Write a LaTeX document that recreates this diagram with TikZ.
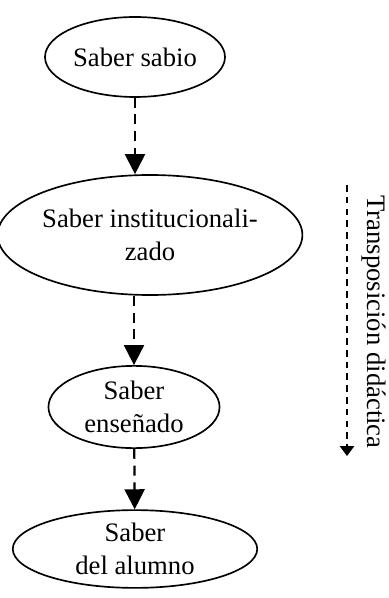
\documentclass[tikz,border=0pt]{standalone}
\usepackage{fontspec}
\setmainfont{Liberation Serif}
\usetikzlibrary{shapes.geometric,arrows.meta}

\begin{document}
\begin{tikzpicture}[x=0.45pt, y=-0.45pt, inner sep=0pt,
    font=\fontsize{12}{15}\selectfont,
    saber/.style={ellipse, draw, line width=0.75pt, align=center},
    flow/.style={line width=1pt, dash pattern=on 4.5pt off 3pt,
                 -{Triangle[width=9pt,length=9pt]}},
    transp/.style={line width=0.6pt, dash pattern=on 3pt off 2.3pt,
                   -{Triangle[width=6.5pt,length=4.5pt]}}]
  \useasboundingbox (0,0) rectangle (388,598);
  \path node (S1) at (135, 57) [saber, minimum width=81pt, minimum height=36pt] {Saber sabio}
        node (S2) at (150,235) [saber, minimum width=126pt, minimum height=54pt] {Saber institucionali-\\zado}
        node (S3) at (134,407) [saber, minimum width=77pt, minimum height=37pt] {Saber\\enseñado}
        node (S4) at (135,549) [saber, minimum width=110pt, minimum height=35pt] {Saber\\del alumno}
        %
        coordinate (T1) at (347,185)
        coordinate (T2) at (347,456)
        node (TD) at (374,322) [rotate=-90] {Transposición didáctica};
  \draw[flow] (S1) -- (S1 |- S2.north);
  \draw[flow] (S3 |- S2.south) -- (S3);
  \draw[flow] (S3) -- (S4);
  \draw[transp] (T1) -- (T2);
\end{tikzpicture}
\end{document}
